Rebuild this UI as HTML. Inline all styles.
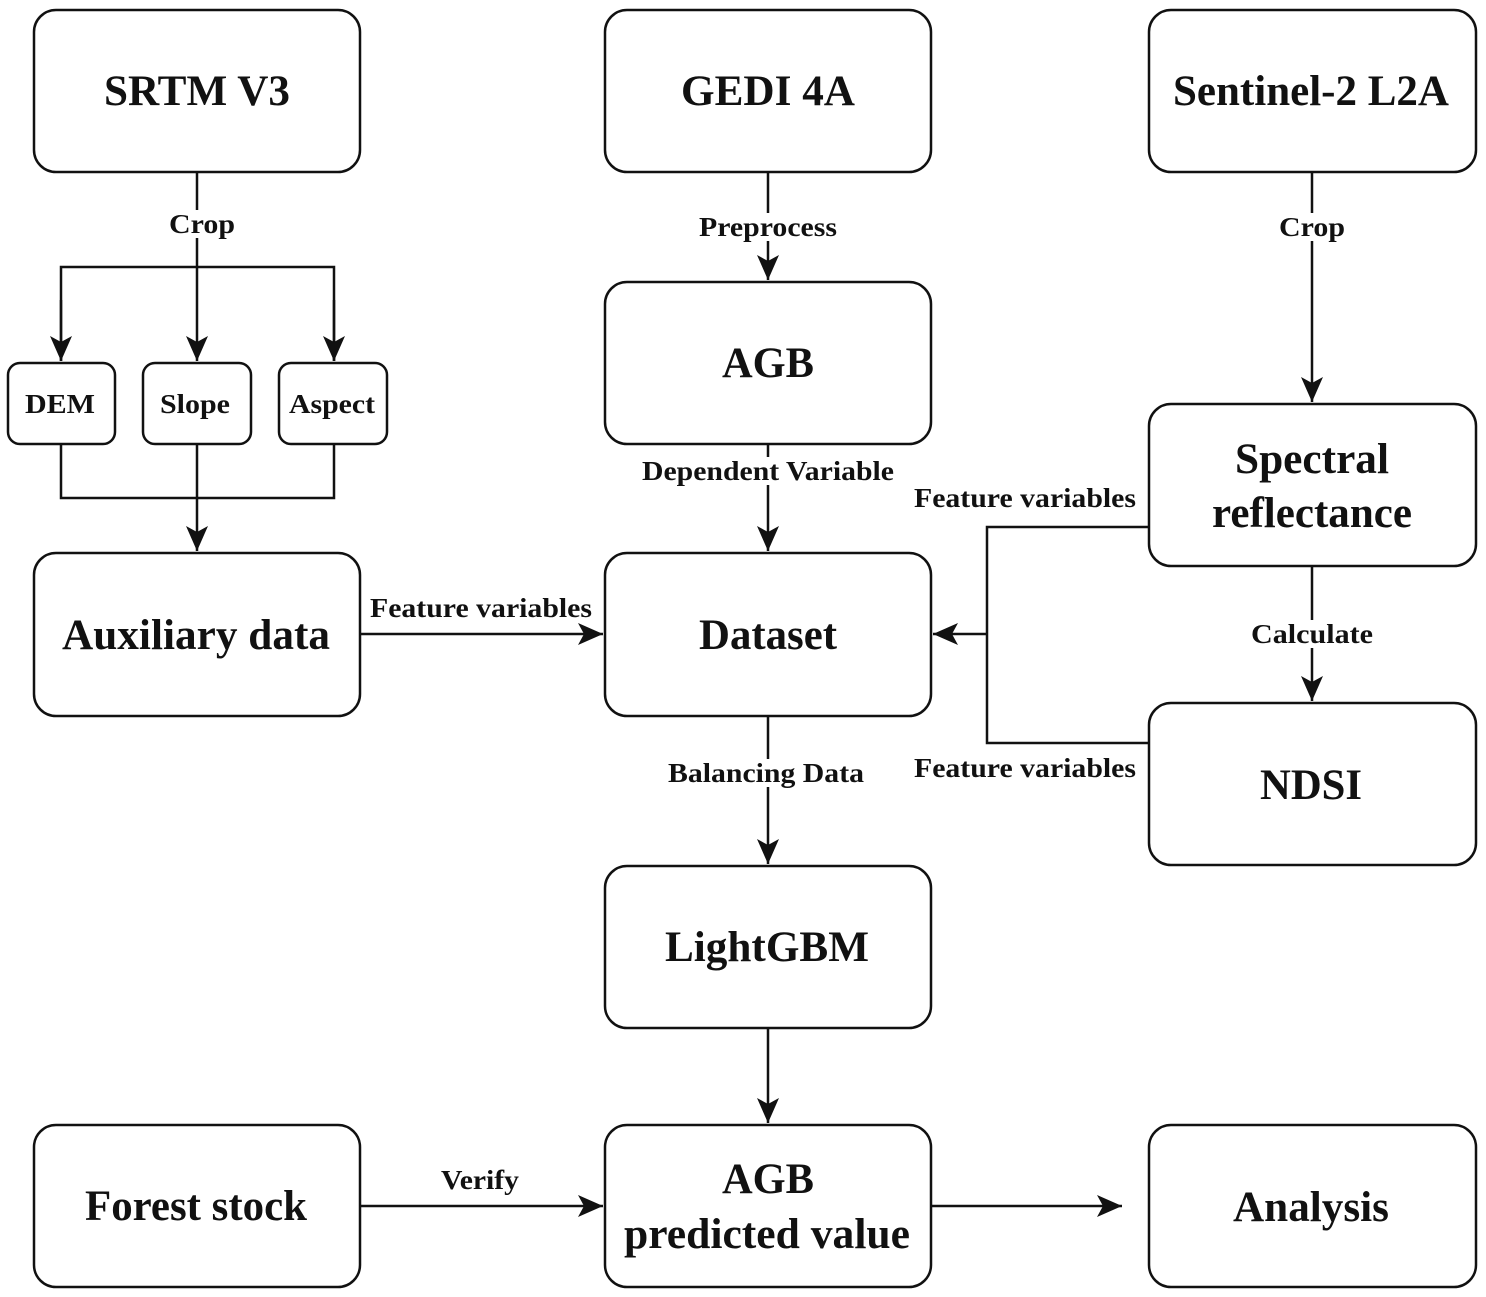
<!DOCTYPE html>
<html><head><meta charset="utf-8"><style>
html,body{margin:0;padding:0;background:#fff;}
svg{display:block;}
text{font-family:"Liberation Serif",serif;font-weight:bold;fill:#111;text-anchor:middle;}
.b{font-size:43px;}
.s{font-size:27px;}
.m{font-size:27px;}
</style></head><body>
<svg width="1486" height="1297" viewBox="0 0 1486 1297" xmlns="http://www.w3.org/2000/svg">
<defs>
<marker id="A" markerWidth="26" markerHeight="22" refX="25" refY="11" orient="auto" markerUnits="userSpaceOnUse">
<path d="M0,0 L25,11 L0,22 L6,11 Z" fill="#111"/>
</marker>
</defs>
<g fill="#fff" stroke="#111" stroke-width="2.5">
<rect x="34" y="10" width="326" height="162" rx="22"/>
<rect x="605" y="10" width="326" height="162" rx="22"/>
<rect x="1149" y="10" width="327" height="162" rx="22"/>
<rect x="605" y="282" width="326" height="162" rx="22"/>
<rect x="8" y="363" width="107" height="81" rx="12"/>
<rect x="143" y="363" width="108" height="81" rx="12"/>
<rect x="279" y="363" width="108" height="81" rx="12"/>
<rect x="34" y="553" width="326" height="163" rx="22"/>
<rect x="605" y="553" width="326" height="163" rx="22"/>
<rect x="1149" y="404" width="327" height="162" rx="22"/>
<rect x="1149" y="703" width="327" height="162" rx="22"/>
<rect x="605" y="866" width="326" height="162" rx="22"/>
<rect x="34" y="1125" width="326" height="162" rx="22"/>
<rect x="605" y="1125" width="326" height="162" rx="22"/>
<rect x="1149" y="1125" width="327" height="162" rx="22"/>
</g>
<g fill="none" stroke="#111" stroke-width="2.5">
<line x1="197" y1="172" x2="197" y2="361" marker-end="url(#A)"/>
<polyline points="61,361 61,267 334,267 334,361" />
<line x1="61" y1="300" x2="61" y2="361" marker-end="url(#A)"/>
<line x1="334" y1="300" x2="334" y2="361" marker-end="url(#A)"/>
<polyline points="61,444 61,498 334,498 334,444"/>
<line x1="197" y1="444" x2="197" y2="551" marker-end="url(#A)"/>
<line x1="768" y1="172" x2="768" y2="280" marker-end="url(#A)"/>
<line x1="768" y1="444" x2="768" y2="551" marker-end="url(#A)"/>
<line x1="1312" y1="172" x2="1312" y2="402" marker-end="url(#A)"/>
<line x1="1312" y1="566" x2="1312" y2="701" marker-end="url(#A)"/>
<polyline points="1149,527 987,527 987,743 1149,743"/>
<line x1="987" y1="634" x2="933" y2="634" marker-end="url(#A)"/>
<line x1="360" y1="634" x2="603" y2="634" marker-end="url(#A)"/>
<line x1="768" y1="716" x2="768" y2="864" marker-end="url(#A)"/>
<line x1="768" y1="1028" x2="768" y2="1123" marker-end="url(#A)"/>
<line x1="360" y1="1206" x2="603" y2="1206" marker-end="url(#A)"/>
<line x1="931" y1="1206" x2="1122" y2="1206" marker-end="url(#A)"/>
</g>
<g fill="#fff">
<rect x="165" y="210" width="74" height="28"/>
<rect x="697" y="213" width="142" height="28"/>
<rect x="1276" y="213" width="72" height="28"/>
<rect x="640" y="457" width="256" height="28"/>
<rect x="1248" y="620" width="128" height="28"/>
<rect x="666" y="759" width="200" height="28"/>
</g>
<text class="b" x="197" y="105" textLength="186" lengthAdjust="spacingAndGlyphs">SRTM V3</text>
<text class="b" x="768" y="105" textLength="174" lengthAdjust="spacingAndGlyphs">GEDI 4A</text>
<text class="b" x="1311" y="105" textLength="276" lengthAdjust="spacingAndGlyphs">Sentinel-2 L2A</text>
<text class="b" x="768" y="377" textLength="92" lengthAdjust="spacingAndGlyphs">AGB</text>
<text class="b" x="196" y="649" textLength="268" lengthAdjust="spacingAndGlyphs">Auxiliary data</text>
<text class="b" x="768" y="649" textLength="138" lengthAdjust="spacingAndGlyphs">Dataset</text>
<text class="b" x="1312" y="473" textLength="154" lengthAdjust="spacingAndGlyphs">Spectral</text>
<text class="b" x="1312" y="527" textLength="200" lengthAdjust="spacingAndGlyphs">reflectance</text>
<text class="b" x="1311" y="799" textLength="102" lengthAdjust="spacingAndGlyphs">NDSI</text>
<text class="b" x="767" y="961" textLength="204" lengthAdjust="spacingAndGlyphs">LightGBM</text>
<text class="b" x="196" y="1220" textLength="222" lengthAdjust="spacingAndGlyphs">Forest stock</text>
<text class="b" x="768" y="1193" textLength="92" lengthAdjust="spacingAndGlyphs">AGB</text>
<text class="b" x="767" y="1248" textLength="286" lengthAdjust="spacingAndGlyphs">predicted value</text>
<text class="b" x="1311" y="1221" textLength="156" lengthAdjust="spacingAndGlyphs">Analysis</text>
<text class="m" x="60" y="413" textLength="70" lengthAdjust="spacingAndGlyphs">DEM</text>
<text class="m" x="195" y="413" textLength="70" lengthAdjust="spacingAndGlyphs">Slope</text>
<text class="m" x="332" y="413" textLength="86" lengthAdjust="spacingAndGlyphs">Aspect</text>
<text class="s" x="202" y="233" textLength="66" lengthAdjust="spacingAndGlyphs">Crop</text>
<text class="s" x="768" y="236" textLength="138" lengthAdjust="spacingAndGlyphs">Preprocess</text>
<text class="s" x="1312" y="236" textLength="66" lengthAdjust="spacingAndGlyphs">Crop</text>
<text class="s" x="768" y="480" textLength="252" lengthAdjust="spacingAndGlyphs">Dependent Variable</text>
<text class="s" x="1025" y="507" textLength="222" lengthAdjust="spacingAndGlyphs">Feature variables</text>
<text class="s" x="1025" y="777" textLength="222" lengthAdjust="spacingAndGlyphs">Feature variables</text>
<text class="s" x="481" y="617" textLength="222" lengthAdjust="spacingAndGlyphs">Feature variables</text>
<text class="s" x="1312" y="643" textLength="122" lengthAdjust="spacingAndGlyphs">Calculate</text>
<text class="s" x="766" y="782" textLength="196" lengthAdjust="spacingAndGlyphs">Balancing Data</text>
<text class="s" x="480" y="1189" textLength="78" lengthAdjust="spacingAndGlyphs">Verify</text>
</svg>
</body></html>
